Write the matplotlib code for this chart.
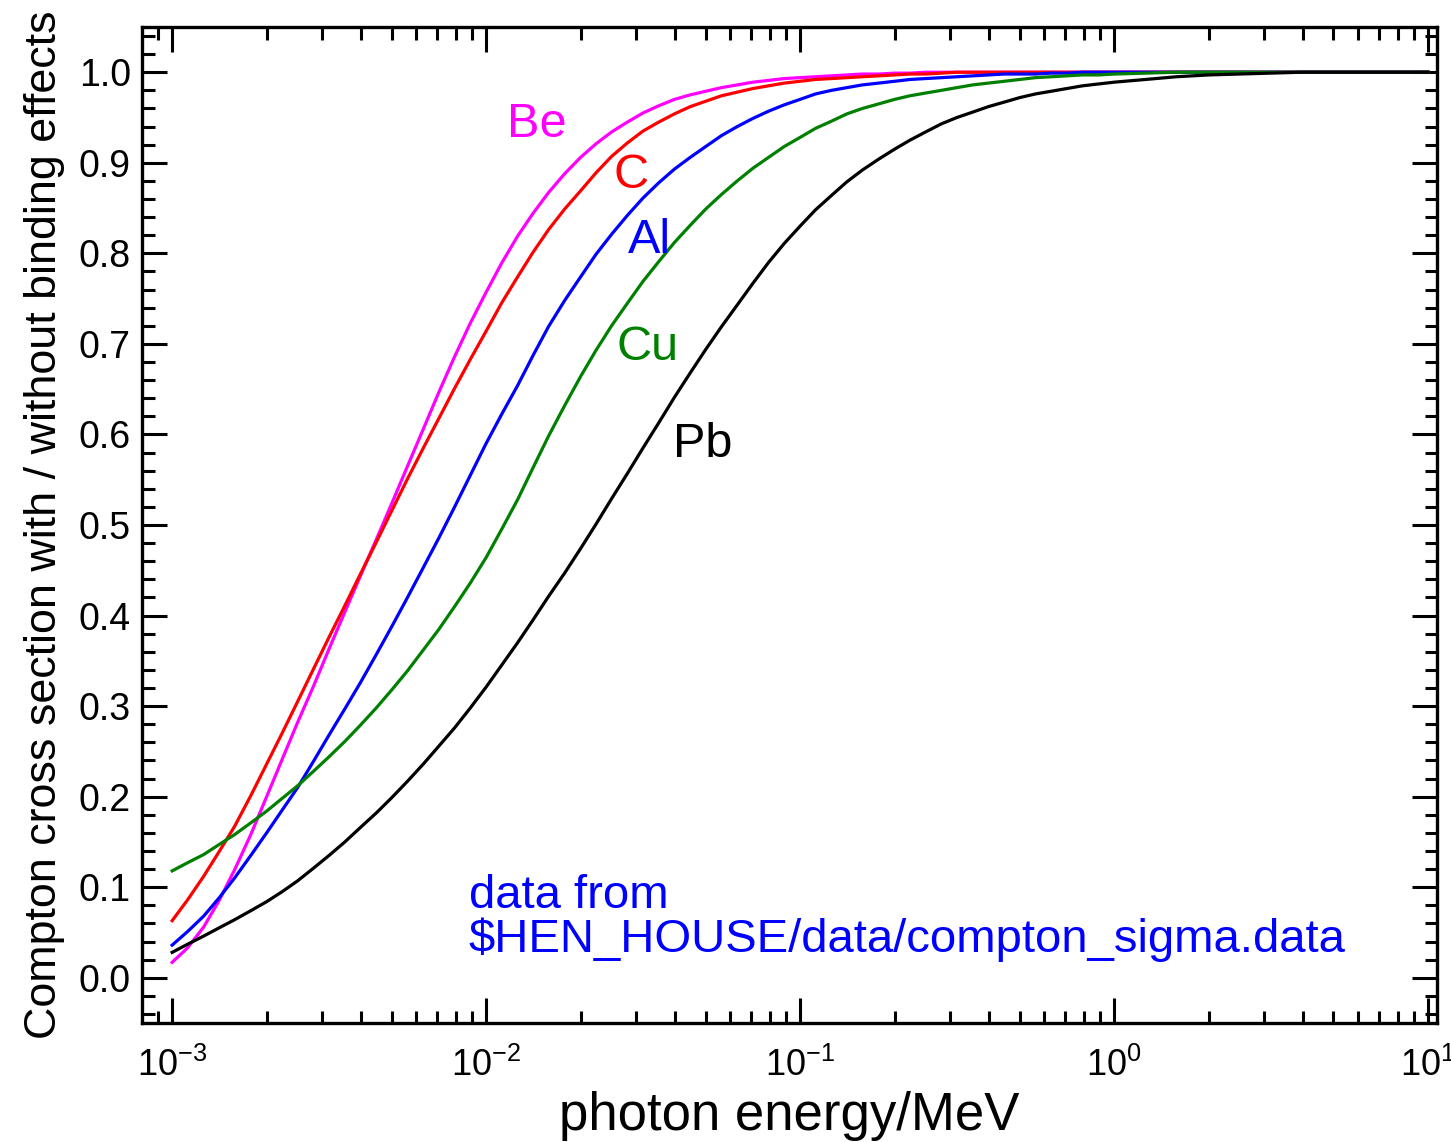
import numpy as np
import matplotlib
matplotlib.use('Agg')
import matplotlib.pyplot as plt
from matplotlib.ticker import LogLocator, MultipleLocator, FormatStrFormatter

plt.rcParams['font.family'] = ['Liberation Sans', 'DejaVu Sans']
plt.rcParams['mathtext.fontset'] = 'custom'
plt.rcParams['mathtext.rm'] = 'Liberation Sans'
plt.rcParams['mathtext.it'] = 'Liberation Sans:italic'
plt.rcParams['mathtext.default'] = 'rm'

# photon energy grid in MeV: 20 points/decade up to 1 MeV, then 10/decade
mant20 = [1.00, 1.12, 1.26, 1.41, 1.58, 1.78, 2.00, 2.24, 2.51, 2.82,
          3.16, 3.55, 3.98, 4.47, 5.01, 5.62, 6.31, 7.08, 7.94, 8.91]
mant10 = [1.26, 1.58, 2.00, 2.51, 3.16, 3.98, 5.01, 6.31, 7.94, 10.0]
energy = ([m * 1e-3 for m in mant20] + [m * 1e-2 for m in mant20]
          + [m * 1e-1 for m in mant20] + [1.0] + mant10)

# ratio of Compton cross section with / without binding effects
be = [0.017, 0.033, 0.056, 0.085, 0.119, 0.158, 0.200, 0.241, 0.282, 0.322,
      0.363, 0.404, 0.444, 0.484, 0.524, 0.565, 0.606, 0.647, 0.686, 0.723,
      0.757, 0.789, 0.819, 0.844, 0.867, 0.888, 0.906, 0.921, 0.934, 0.945,
      0.955, 0.963, 0.970, 0.975, 0.979, 0.983, 0.986, 0.989, 0.991, 0.993,
      0.994, 0.995, 0.996, 0.997, 0.998, 0.998, 0.999, 0.999, 1.0, 1.0] + [1.0] * 21
c = [0.063, 0.086, 0.112, 0.139, 0.167, 0.201, 0.236, 0.270, 0.305, 0.341,
     0.376, 0.411, 0.446, 0.481, 0.516, 0.551, 0.585, 0.618, 0.651, 0.683,
     0.714, 0.745, 0.774, 0.801, 0.826, 0.849, 0.869, 0.889, 0.907, 0.922,
     0.935, 0.945, 0.954, 0.962, 0.968, 0.974, 0.978, 0.982, 0.985, 0.988,
     0.990, 0.992, 0.993, 0.994, 0.995, 0.996, 0.997, 0.998, 0.998, 0.999] + [1.0] * 21
al = [0.036, 0.051, 0.068, 0.088, 0.110, 0.135, 0.160, 0.185, 0.210, 0.239,
      0.268, 0.297, 0.326, 0.357, 0.388, 0.420, 0.453, 0.486, 0.520, 0.555,
      0.590, 0.622, 0.654, 0.687, 0.719, 0.748, 0.774, 0.799, 0.821, 0.842,
      0.861, 0.878, 0.893, 0.906, 0.918, 0.930, 0.940, 0.949, 0.957, 0.964,
      0.970, 0.976, 0.980, 0.983, 0.986, 0.988, 0.990, 0.992, 0.993, 0.994,
      0.995, 0.996, 0.997, 0.998, 0.998, 0.998, 0.999, 0.999] + [1.0] * 13
cu = [0.118, 0.127, 0.136, 0.147, 0.158, 0.171, 0.184, 0.198, 0.212, 0.228,
      0.244, 0.261, 0.279, 0.298, 0.318, 0.339, 0.362, 0.385, 0.410, 0.436,
      0.464, 0.495, 0.528, 0.563, 0.598, 0.632, 0.664, 0.693, 0.720, 0.745,
      0.769, 0.791, 0.812, 0.831, 0.849, 0.865, 0.880, 0.894, 0.906, 0.918,
      0.928, 0.938, 0.946, 0.954, 0.960, 0.965, 0.970, 0.974, 0.977, 0.980,
      0.983, 0.986, 0.988, 0.990, 0.992, 0.994, 0.995, 0.996, 0.997, 0.997,
      0.998, 0.999] + [1.0] * 9
pb = [0.028, 0.037, 0.046, 0.055, 0.064, 0.074, 0.084, 0.095, 0.107, 0.121,
      0.135, 0.150, 0.166, 0.182, 0.199, 0.217, 0.236, 0.256, 0.276, 0.298,
      0.321, 0.345, 0.370, 0.395, 0.421, 0.447, 0.474, 0.501, 0.529, 0.557,
      0.585, 0.613, 0.641, 0.668, 0.694, 0.719, 0.743, 0.767, 0.790, 0.811,
      0.830, 0.848, 0.864, 0.879, 0.892, 0.904, 0.915, 0.925, 0.934, 0.943,
      0.950, 0.956, 0.962, 0.967, 0.972, 0.976, 0.979, 0.982, 0.985, 0.987,
      0.989, 0.992, 0.995, 0.997, 0.998, 0.999] + [1.0] * 5

elements = ['Be', 'C', 'Al', 'Cu', 'Pb']
colors = ['#ff00ff', '#ff0000', '#0000ff', '#008000', '#000000']
# label anchor (energy, ratio) - left / baseline of the text
label_pos = [(0.01167, 0.928), (0.0255, 0.872), (0.0283, 0.800), (0.0261, 0.682), (0.0395, 0.575)]

fig = plt.figure(figsize=(14.51, 11.42), dpi=100)
ax = fig.add_axes([0.0979, 0.1042, 0.8925, 0.8722])

for y, col in zip([be, c, al, cu, pb], colors):
    ax.plot(energy, y, '-', color=col, lw=2.3)

for name, col, (xp, yp) in zip(elements, colors, label_pos):
    ax.text(xp, yp, name, color=col, fontsize=35, ha='left', va='baseline')

ax.text(0.00879, 0.077, 'data from', color='#0000ff', fontsize=34, ha='left', va='baseline')
ax.text(0.00879, 0.0284, r'\$HEN_HOUSE/data/compton_sigma.data',
        color='#0000ff', fontsize=34, ha='left', va='baseline')

ax.set_xscale('log')
ax.set_xlim(8.02e-4, 10.69)
ax.set_ylim(-0.05, 1.05)

ax.xaxis.set_major_locator(LogLocator(base=10, numticks=10))
ax.xaxis.set_minor_locator(LogLocator(base=10, subs=np.arange(2, 10), numticks=40))
ax.yaxis.set_major_locator(MultipleLocator(0.1))
ax.yaxis.set_minor_locator(MultipleLocator(0.02))
ax.yaxis.set_major_formatter(FormatStrFormatter('%.1f'))

ax.tick_params(which='both', direction='in', top=True, right=True, width=2.2)
ax.tick_params(which='major', length=18)
ax.tick_params(which='minor', length=9)
ax.tick_params(axis='y', labelsize=27, pad=8)
ax.tick_params(axis='x', labelsize=26, pad=18)
for s in ax.spines.values():
    s.set_linewidth(2.4)

ax.set_xlabel('photon energy/MeV', fontsize=38, labelpad=5)
ax.set_ylabel('Compton cross section with / without binding effects', fontsize=32.3, labelpad=10)

fig.savefig('out.png', dpi=100)
